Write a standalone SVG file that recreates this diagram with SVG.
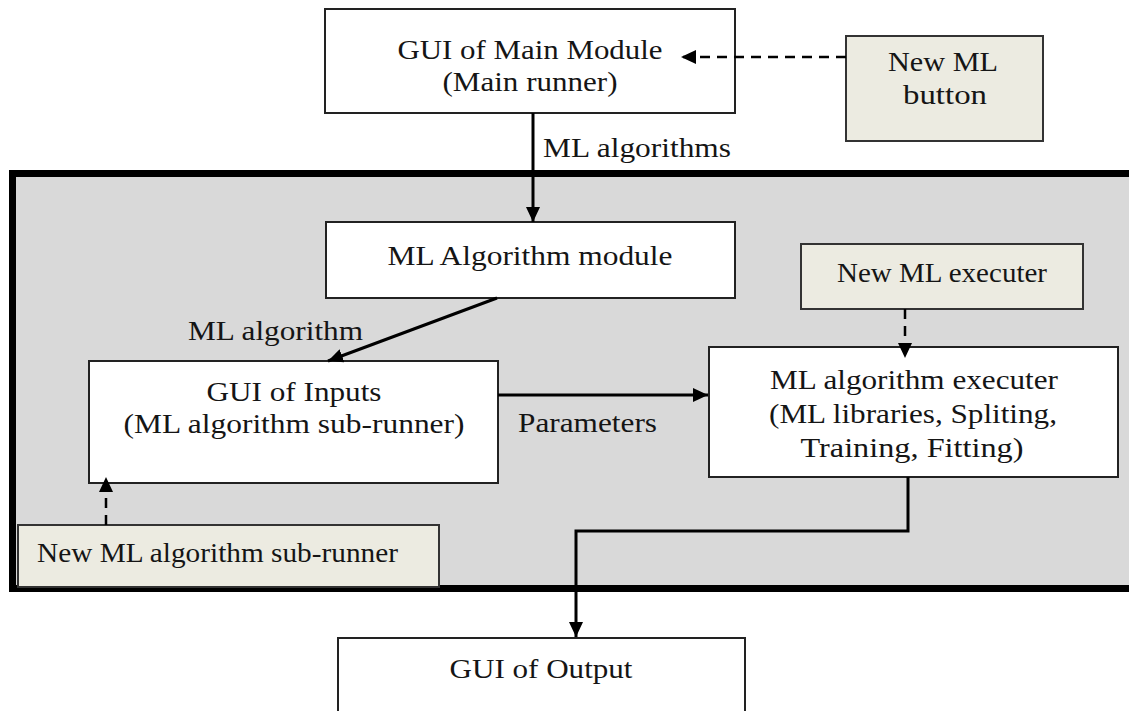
<svg xmlns="http://www.w3.org/2000/svg" width="1129" height="711" viewBox="0 0 1129 711">
  <style>
    .box { fill: #ffffff; stroke: #222222; stroke-width: 2; }
    .ext { fill: #ecebe1; stroke: #333333; stroke-width: 2; }
    .t { font-family: "Liberation Serif", "Times New Roman", serif; font-size: 28px; fill: #151515; }
    .c { text-anchor: middle; }
    .wire { fill: none; stroke: #000000; stroke-width: 3; }
    .dash { fill: none; stroke: #000000; stroke-width: 2.5; stroke-dasharray: 10 7; }
  </style>
  <defs>
    <marker id="head" markerUnits="userSpaceOnUse" markerWidth="16" markerHeight="14" refX="15" refY="7" orient="auto">
      <path d="M0,0 L15,7 L0,14 Z" fill="#000000"/>
    </marker>
  </defs>

  <rect width="1129" height="711" fill="#ffffff"/>

  <!-- extension frame around the ML algorithm part -->
  <g id="frame">
    <rect x="12.5" y="173.5" width="1130" height="415" fill="#d9d9d9" stroke="#000000" stroke-width="7"/>
  </g>

  <g id="main-gui">
    <rect class="box" x="325" y="9" width="410" height="104"/>
    <text class="t c" x="530" y="59" textLength="265" lengthAdjust="spacingAndGlyphs">GUI of Main Module</text>
    <text class="t c" x="530" y="91" textLength="175" lengthAdjust="spacingAndGlyphs">(Main runner)</text>
  </g>

  <g id="new-ml-button">
    <rect class="ext" x="846" y="36" width="197" height="105"/>
    <text class="t c" x="943" y="71" textLength="110" lengthAdjust="spacingAndGlyphs">New ML</text>
    <text class="t c" x="945" y="104" textLength="84" lengthAdjust="spacingAndGlyphs">button</text>
  </g>

  <g id="ml-algorithm-module">
    <rect class="box" x="326" y="222" width="409" height="76"/>
    <text class="t c" x="530" y="265" textLength="285" lengthAdjust="spacingAndGlyphs">ML Algorithm module</text>
  </g>

  <g id="new-ml-executer">
    <rect class="ext" x="801" y="244" width="282" height="65"/>
    <text class="t c" x="942" y="282" textLength="210" lengthAdjust="spacingAndGlyphs">New ML executer</text>
  </g>

  <g id="gui-inputs">
    <rect class="box" x="89" y="361" width="409" height="122"/>
    <text class="t c" x="294" y="401" textLength="175" lengthAdjust="spacingAndGlyphs">GUI of Inputs</text>
    <text class="t c" x="294" y="433" textLength="341" lengthAdjust="spacingAndGlyphs">(ML algorithm sub-runner)</text>
  </g>

  <g id="ml-executer">
    <rect class="box" x="709" y="347" width="409" height="130"/>
    <text class="t c" x="914" y="389" textLength="288" lengthAdjust="spacingAndGlyphs">ML algorithm executer</text>
    <text class="t c" x="913" y="423" textLength="288" lengthAdjust="spacingAndGlyphs">(ML libraries, Spliting,</text>
    <text class="t c" x="912" y="457" textLength="223" lengthAdjust="spacingAndGlyphs">Training, Fitting)</text>
  </g>

  <g id="new-sub-runner">
    <rect class="ext" x="18" y="525" width="421" height="62"/>
    <text class="t" x="37" y="562" textLength="361" lengthAdjust="spacingAndGlyphs">New ML algorithm sub-runner</text>
  </g>

  <g id="gui-output">
    <rect class="box" x="338" y="638" width="407" height="90"/>
    <text class="t c" x="541" y="678" textLength="183" lengthAdjust="spacingAndGlyphs">GUI of Output</text>
  </g>

  <!-- connectors are drawn last so arrowheads sit on top of box edges -->
  <g id="connectors">
    <line class="wire" x1="533" y1="113" x2="533" y2="222" marker-end="url(#head)"/>
    <line class="dash" x1="846" y1="57" x2="681" y2="57" marker-end="url(#head)"/>
    <line class="wire" x1="497" y1="298" x2="328" y2="361" marker-end="url(#head)"/>
    <line class="wire" x1="498" y1="395" x2="708" y2="395" marker-end="url(#head)"/>
    <line class="dash" x1="905" y1="309" x2="905" y2="358" marker-end="url(#head)"/>
    <line class="dash" x1="106" y1="525" x2="106" y2="477" marker-end="url(#head)"/>
    <polyline class="wire" points="908,477 908,531 576,531 576,637" marker-end="url(#head)"/>
    <text class="t" x="543" y="157" textLength="188" lengthAdjust="spacingAndGlyphs">ML algorithms</text>
    <text class="t" x="188" y="340" textLength="175" lengthAdjust="spacingAndGlyphs">ML algorithm</text>
    <text class="t" x="518" y="432" textLength="139" lengthAdjust="spacingAndGlyphs">Parameters</text>
  </g>
</svg>
